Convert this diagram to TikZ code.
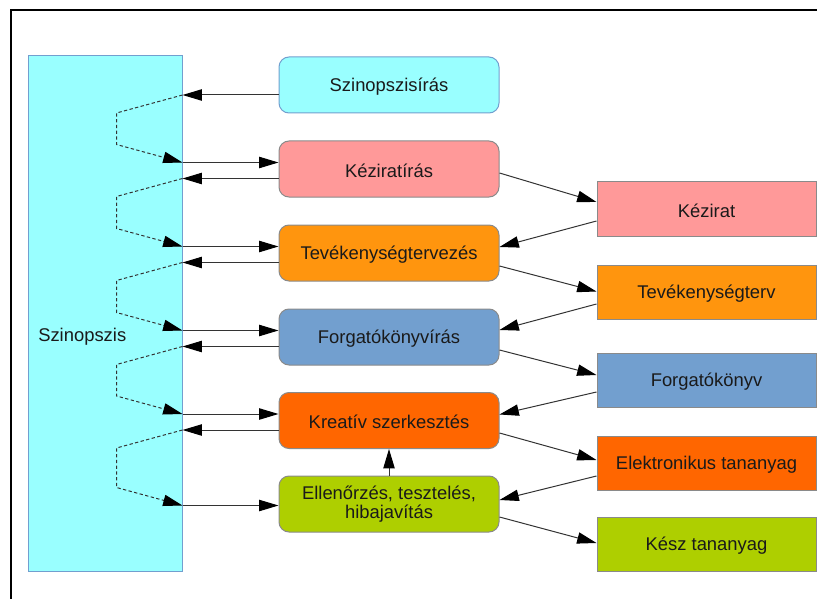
\documentclass[tikz,border=0pt]{standalone}
\usepackage{fontspec}
\setmainfont{Liberation Sans}
\usetikzlibrary{arrows.meta,calc}
\definecolor{cyanc}{HTML}{99FFFF}
\definecolor{pinkc}{HTML}{FF9999}
\definecolor{orangec}{HTML}{FF950E}
\definecolor{bluec}{HTML}{729FCF}
\definecolor{redorc}{HTML}{FF6600}
\definecolor{greenc}{HTML}{AECF00}
\definecolor{edgec}{HTML}{8A8A8A}
\definecolor{linec}{HTML}{333333}
\definecolor{txtc}{HTML}{1A1A1A}
\begin{document}
\begin{tikzpicture}[x=0.75pt,y=-0.75pt,
  lbl/.style={font=\fontsize{13.8pt}{14pt}\selectfont, text=txtc},
  mbox/.style={lbl, draw=edgec, line width=0.75pt, rounded corners=7.5pt,
    minimum width=165pt, minimum height=42pt, align=center, inner sep=0pt},
  rbox/.style={lbl, draw=edgec, line width=0.75pt,
    minimum width=164.25pt, minimum height=40.5pt, inner sep=0pt, text height=12.5pt},
  arr/.style={draw=linec, line width=0.75pt, -{Triangle[length=14.5pt,width=8.5pt,color=black]}},
  dsh/.style={draw=linec, line width=0.75pt, dash pattern=on 2.5pt off 1.8pt, -{Triangle[length=14.5pt,width=8.5pt,color=black]}}
]
\useasboundingbox (0,0) rectangle (817,599);
\draw[line width=1.5pt, black] (10.5,599) -- (10.5,10.5) -- (817,10.5);

% left column
\node[draw=bluec, line width=0.75pt, fill=cyanc, minimum width=115.5pt, minimum height=386.25pt, inner sep=0pt] (szin) at (105,313.5) {};
\node[lbl, anchor=west, inner sep=0pt] (szinlbl) at (38,337) {Szinopszis};

% middle column
\node[mbox, fill=cyanc, draw=bluec, text height=12.5pt] (m1) at (389,85) {Szinopszisírás};
\node[mbox, fill=pinkc, text height=12.5pt] (m2) at (389,169) {Kéziratírás};
\node[mbox, fill=orangec, text height=12.5pt] (m3) at (389,253) {Tevékenységtervezés};
\node[mbox, fill=bluec, text height=12.5pt] (m4) at (389,337) {Forgatókönyvírás};
\node[mbox, fill=redorc, text height=12.5pt] (m5) at (389,420.5) {Kreatív szerkesztés};
\node[mbox, fill=greenc] (m6) at (389,504) {Ellenőrzés, tesztelés,\\hibajavítás};

% right column
\node[rbox, fill=pinkc] (r1) at (706.5,209) {Kézirat};
\node[rbox, fill=orangec] (r2) at (706.5,292.5) {Tevékenységterv};
\node[rbox, fill=bluec] (r3) at (706.5,380) {Forgatókönyv};
\node[rbox, fill=redorc] (r4) at (706.5,463.5) {Elektronikus tananyag};
\node[rbox, fill=greenc] (r5) at (706.5,544) {Kész tananyag};

% anchor points on the left side of the middle boxes
\coordinate (m1o) at ($(m1.west)+(0,10)$);
\coordinate (m2i) at ($(m2.west)+(0,-6.5)$);
\coordinate (m2o) at ($(m2.west)+(0,9.5)$);
\coordinate (m3i) at ($(m3.west)+(0,-6.5)$);
\coordinate (m3o) at ($(m3.west)+(0,9.5)$);
\coordinate (m4i) at ($(m4.west)+(0,-6.5)$);
\coordinate (m4o) at ($(m4.west)+(0,9.5)$);
\coordinate (m5i) at ($(m5.west)+(0,-6.5)$);
\coordinate (m5o) at ($(m5.west)+(0,9.5)$);
\coordinate (m6i) at ($(m6.west)+(0,1.5)$);

\coordinate (s1o) at (szin.east |- m1o);
\coordinate (s2i) at (szin.east |- m2i);
\coordinate (s2o) at (szin.east |- m2o);
\coordinate (s3i) at (szin.east |- m3i);
\coordinate (s3o) at (szin.east |- m3o);
\coordinate (s4i) at (szin.east |- m4i);
\coordinate (s4o) at (szin.east |- m4o);
\coordinate (s5i) at (szin.east |- m5i);
\coordinate (s5o) at (szin.east |- m5o);
\coordinate (s6i) at (szin.east |- m6i);

% solid arrows between Szinopszis and middle boxes
\draw[arr] (m1o) -- (s1o);
\draw[arr] (s2i) -- (m2i);
\draw[arr] (m2o) -- (s2o);
\draw[arr] (s3i) -- (m3i);
\draw[arr] (m3o) -- (s3o);
\draw[arr] (s4i) -- (m4i);
\draw[arr] (m4o) -- (s4o);
\draw[arr] (s5i) -- (m5i);
\draw[arr] (m5o) -- (s5o);
\draw[arr] (s6i) -- (m6i);

% dashed loops inside Szinopszis
\draw[dsh] (s1o) -- ++(-66,18) -- ($(s2i)+(-66,-18)$) -- (s2i);
\draw[dsh] (s2o) -- ++(-66,18) -- ($(s3i)+(-66,-18)$) -- (s3i);
\draw[dsh] (s3o) -- ++(-66,18) -- ($(s4i)+(-66,-18)$) -- (s4i);
\draw[dsh] (s4o) -- ++(-66,18) -- ($(s5i)+(-66,-18)$) -- (s5i);
\draw[dsh] (s5o) -- ++(-66,18) -- ($(s6i)+(-66,-18)$) -- (s6i);

% right-side arrows
\draw[arr] ($(m2.east)+(0,4)$) -- ($(r1.west)+(0,-7)$);
\draw[arr] ($(r1.west)+(0,12)$) -- ($(m3.east)+(0,-6)$);
\draw[arr] ($(m3.east)+(0,13)$) -- ($(r2.west)+(0,-1)$);
\draw[arr] ($(r2.west)+(0,11.5)$) -- ($(m4.east)+(0,-7)$);
\draw[arr] ($(m4.east)+(0,13)$) -- ($(r3.west)+(0,-5)$);
\draw[arr] ($(r3.west)+(0,12)$) -- ($(m5.east)+(0,-6)$);
\draw[arr] ($(m5.east)+(0,12.5)$) -- ($(r4.west)+(0,-3.5)$);
\draw[arr] ($(r4.west)+(0,12.5)$) -- ($(m6.east)+(0,-4)$);
\draw[arr] ($(m6.east)+(0,13)$) -- ($(r5.west)+(0,-1)$);

% vertical arrow
\draw[arr] (m6.north) -- (m5.south);
\end{tikzpicture}
\end{document}
